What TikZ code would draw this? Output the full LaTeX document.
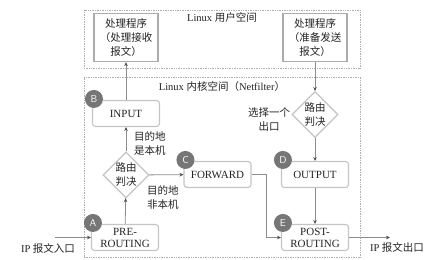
\documentclass[tikz,border=0pt]{standalone}
\usepackage{fontspec}
\setmainfont{Liberation Serif}
\newfontfamily\cjk{Noto Sans CJK SC}
\usetikzlibrary{arrows.meta,positioning,shapes.geometric}
\definecolor{frame}{RGB}{196,196,196}
\definecolor{rule}{RGB}{140,140,140}
\definecolor{dots}{RGB}{175,175,175}
\definecolor{disk}{RGB}{118,118,118}
\definecolor{ink}{RGB}{35,35,35}
\tikzset{
  >={Stealth[length=4pt,width=3.6pt,color=ink!80]},
  hook/.style={draw=frame,fill=white,rounded corners=3pt,line width=1.1pt,
    minimum width=67pt,minimum height=26pt,inner sep=1pt,align=center,
    font=\fontsize{11}{12}\selectfont,text=ink},
  app/.style={draw=gray!65,line width=1.3pt,fill=white,minimum width=64pt,
    minimum height=48pt,inner sep=1pt,align=center,
    font=\cjk\fontsize{10.5}{14}\selectfont,text=ink},
  decide/.style={diamond,draw=frame,line width=1.1pt,fill=white,
    minimum width=46pt,minimum height=46pt,inner sep=0pt,align=center,
    font=\cjk\fontsize{10.5}{14}\selectfont,text=ink},
  badge/.style={circle,fill=disk,text=white,minimum size=18pt,inner sep=0pt,
    font=\sffamily\fontsize{10}{10}\selectfont},
  tag/.style={align=left,inner sep=0pt,font=\cjk\fontsize{10.5}{14}\selectfont,text=ink},
  flow/.style={->,draw=rule,line width=0.8pt},
  zone/.style={draw=dots,densely dotted,line width=0.7pt,minimum width=276pt},
}
\begin{document}
\begin{tikzpicture}[x=1pt,y=-1pt]
  \useasboundingbox (0,0) rectangle (440,260);
  % the two spaces
  \node[zone,minimum height=58pt] (user) at (222,39) {};
  \node[zone,minimum height=180pt] (kernel) at (222,167) {};
  \node[font=\fontsize{10.5}{12}\selectfont,text=ink] (userlbl) at (222,18) {Linux {\cjk 用户空间}};
  \node[font=\fontsize{10.5}{12}\selectfont,text=ink] (kernlbl) at (222,87) {Linux {\cjk 内核空间（}Netfilter{\cjk ）}};

  % user programs
  \node[app] (recv) at (126,37.5) {处理程序\\（处理接收\\报文）};
  \node[app] (send) at (315,37.5) {处理程序\\（准备发送\\报文）};

  % hooks
  \node[hook] (pre) at (125,237.5) {PRE-\\ROUTING};
  \node[hook] (in) at (126,113.5) {INPUT};
  \node[hook] (fwd) at (217.5,174.5) {FORWARD};
  \node[hook] (out) at (315,174.5) {OUTPUT};
  \node[hook] (post) at (315,237.5) {POST-\\ROUTING};
  \foreach \h/\l in {pre/A,in/B,fwd/C,out/D,post/E}
    \node[badge] (b\l) at ([xshift=2pt,yshift=1pt]\h.north west) {\l};

  % routing decisions
  \node[decide] (route) at (126,175) {路由\\判决};
  \node[decide] (pick) at (315,114.5) {路由\\判决};

  \node[tag,anchor=west] (local) at (134,143) {目的地\\是本机};
  \node[tag,anchor=west] (remote) at (147,197) {目的地\\非本机};
  \node[tag,align=center] (choose) at (269,119) {选择一个\\出口};

  % entry and exit
  \coordinate (entry) at (55,237.5);
  \coordinate (exit) at (390,237.5);
  \node[tag] (inlbl) at (48,248) {{\rmfamily IP} 报文入口};
  \node[tag] (outlbl) at (397,247) {{\rmfamily IP} 报文出口};

  \draw[flow] (entry) -- (pre.west);
  \draw[flow] (pre) -- (route);
  \draw[flow] (route) -- (in);
  \draw[flow] (in) -- (recv);
  \draw[flow] (route) -- (fwd);
  \draw[flow] (fwd.east) -- ++(15,0) |- (post.west);
  \draw[flow] (send) -- (pick);
  \draw[flow] (pick) -- (out);
  \draw[flow] (out) -- (post);
  \draw[flow] (post.east) -- (exit);
\end{tikzpicture}
\end{document}
